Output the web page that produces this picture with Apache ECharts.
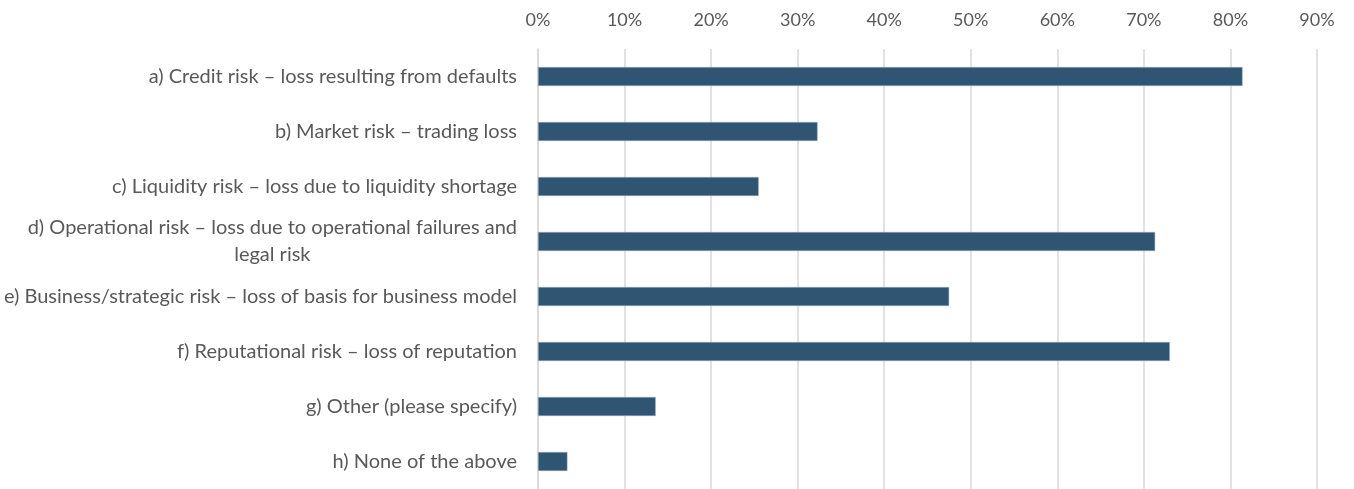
<!DOCTYPE html>
<html>
<head>
<meta charset="utf-8">
<script src="https://cdn.jsdelivr.net/npm/echarts@6/dist/echarts.min.js"></script>
<style>
html,body{margin:0;padding:0;background:#fff;}
#chart{width:1354px;height:489px;}
</style>
</head>
<body>
<div id="chart"></div>
<script>
const categories = [
  "a) Credit risk \u2013 loss resulting from defaults",
  "b) Market risk \u2013 trading loss",
  "c) Liquidity risk \u2013 loss due to liquidity shortage",
  "d) Operational risk \u2013 loss due to operational failures and\nlegal risk",
  "e) Business/strategic risk \u2013 loss of basis for business model",
  "f) Reputational risk \u2013 loss of reputation",
  "g) Other (please specify)",
  "h) None of the above"
];
const values = [81.4, 32.3, 25.5, 71.3, 47.5, 73.0, 13.6, 3.4];
const xTicks = [0, 10, 20, 30, 40, 50, 60, 70, 80, 90];

const chart = echarts.init(document.getElementById('chart'), null, {renderer: 'canvas'});
const font = 'Lato, "Open Sans", sans-serif';
chart.setOption({
  animation: false,
  grid: {left: 538, right: 37, top: 49, height: 445, containLabel: false},
  xAxis: {
    type: 'value', position: 'top', min: xTicks[0], max: xTicks[xTicks.length - 1], interval: 10,
    axisLine: {show: false}, axisTick: {show: false},
    axisLabel: {
      formatter: v => v + '%', color: '#595959', fontSize: 18, fontFamily: font, margin: 20
    },
    splitLine: {lineStyle: {color: '#d9d9d9', width: 1.5}}
  },
  yAxis: {
    type: 'category', inverse: true, data: categories,
    axisLine: {lineStyle: {color: '#d9d9d9', width: 1.5}},
    axisTick: {show: false},
    axisLabel: {
      color: '#595959', fontSize: 20, fontFamily: font, margin: 21, align: 'right',
      formatter: v => v.split('\n').map(s => '{c|' + s + '}').join('\n'),
      rich: {c: {color: '#595959', fontSize: 20, fontFamily: font, align: 'center', lineHeight: 27}}
    }
  },
  series: [{
    type: 'bar', data: values, barWidth: 19,
    itemStyle: {color: '#2F5572', borderColor: '#9fb3c4', borderWidth: 0.5}
  }]
});
</script>
</body>
</html>
